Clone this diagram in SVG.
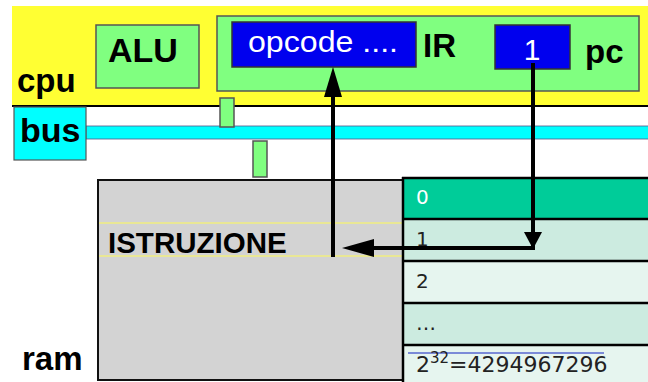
<svg xmlns="http://www.w3.org/2000/svg" width="648" height="382" viewBox="0 0 648 382">
<style>
.lbl{font-family:"Liberation Sans",Arial,sans-serif;font-weight:bold;fill:#000}
.grn{fill:#80FF80;stroke:#555;stroke-width:1.5}
.blu{fill:#0000EE;stroke:#333;stroke-width:1.5}
.wt{font-family:"Liberation Sans",Arial,sans-serif;fill:#fff}
.cell{font-family:"DejaVu Sans",Verdana,sans-serif;fill:#222}
.row{stroke:#000;stroke-width:2.5}
.ar{stroke:#000;stroke-width:4;fill:none}
</style>
<rect width="648" height="382" fill="#fff"/>
<g id="cpu">
<rect x="12" y="6" width="640" height="100" fill="#FFFF33"/>
<line x1="12" y1="106" x2="648" y2="106" stroke="#000" stroke-width="2"/>
<text class="lbl" x="17" y="92" font-size="33">cpu</text>
</g>
<g id="alu">
<rect class="grn" x="96" y="25" width="103" height="63"/>
<text class="lbl" x="108" y="62" font-size="34">ALU</text>
</g>
<g id="ir">
<rect class="grn" x="217" y="16" width="422" height="75"/>
<rect class="blu" x="232" y="22" width="184" height="45"/>
<text class="wt" x="248" y="52" font-size="29" textLength="150" lengthAdjust="spacingAndGlyphs">opcode ....</text>
<text class="lbl" x="423" y="57" font-size="33">IR</text>
</g>
<g id="pc">
<rect class="blu" x="495" y="25" width="75" height="44"/>
<text class="wt" x="532" y="60" font-size="30" text-anchor="middle">1</text>
<text class="lbl" x="585" y="63" font-size="33">pc</text>
</g>
<g id="bus">
<rect x="86" y="126" width="566" height="13" fill="#00FFFF" stroke="#558" stroke-width="0.8"/>
<rect x="14" y="107" width="72" height="53" fill="#00FFFF" stroke="#555" stroke-width="1.2"/>
<text class="lbl" x="20" y="142" font-size="34">bus</text>
<rect class="grn" x="220" y="98" width="14" height="29"/>
<rect class="grn" x="253" y="141" width="14" height="36"/>
</g>
<g id="ram">
<rect x="98" y="180" width="310" height="200" fill="#D3D3D3" stroke="#111" stroke-width="2"/>
<line x1="99" y1="223" x2="402" y2="223" stroke="#F0EE80" stroke-width="1.5"/>
<line x1="99" y1="256" x2="402" y2="256" stroke="#F0EE80" stroke-width="1.5"/>
<text class="lbl" x="108" y="253" font-size="29.5">ISTRUZIONE</text>
<text class="lbl" x="22" y="370" font-size="33">ram</text>
</g>
<g id="table">
<rect x="402" y="178" width="250" height="41" fill="#00CC99"/>
<rect x="402" y="219" width="250" height="42" fill="#CCEBE0"/>
<rect x="402" y="261" width="250" height="42" fill="#E6F5EF"/>
<rect x="402" y="303" width="250" height="42" fill="#CCEBE0"/>
<rect x="402" y="345" width="250" height="40" fill="#E6F5EF"/>
<line class="row" x1="402" y1="178" x2="648" y2="178"/>
<line class="row" x1="402" y1="219" x2="648" y2="219"/>
<line class="row" x1="402" y1="261" x2="648" y2="261"/>
<line class="row" x1="402" y1="303" x2="648" y2="303"/>
<line class="row" x1="402" y1="345" x2="648" y2="345"/>
<line class="row" x1="403" y1="177" x2="403" y2="382"/>
<line x1="408" y1="353" x2="604" y2="353" stroke="#1020C0" stroke-width="1"/>
<text class="cell" x="416" y="204" font-size="20" style="fill:#fff">0</text>
<text class="cell" x="416" y="246" font-size="20">1</text>
<text class="cell" x="416" y="288" font-size="20">2</text>
<text class="cell" x="416" y="330" font-size="20">…</text>
<text class="cell" x="416" y="372" font-size="22">2<tspan font-size="15" dy="-9">32</tspan><tspan dy="9">=4294967296</tspan></text>
</g>
<g id="connectors">
<line class="ar" x1="333" y1="257" x2="333" y2="95"/>
<polygon points="333,67 324,97 342,97" fill="#000"/>
<polyline class="ar" points="533,63 533,248 372,248"/>
<polygon points="524,232 542,232 533,249" fill="#000"/>
<polygon points="342,248 374,239 374,257" fill="#000"/>
</g>
</svg>
